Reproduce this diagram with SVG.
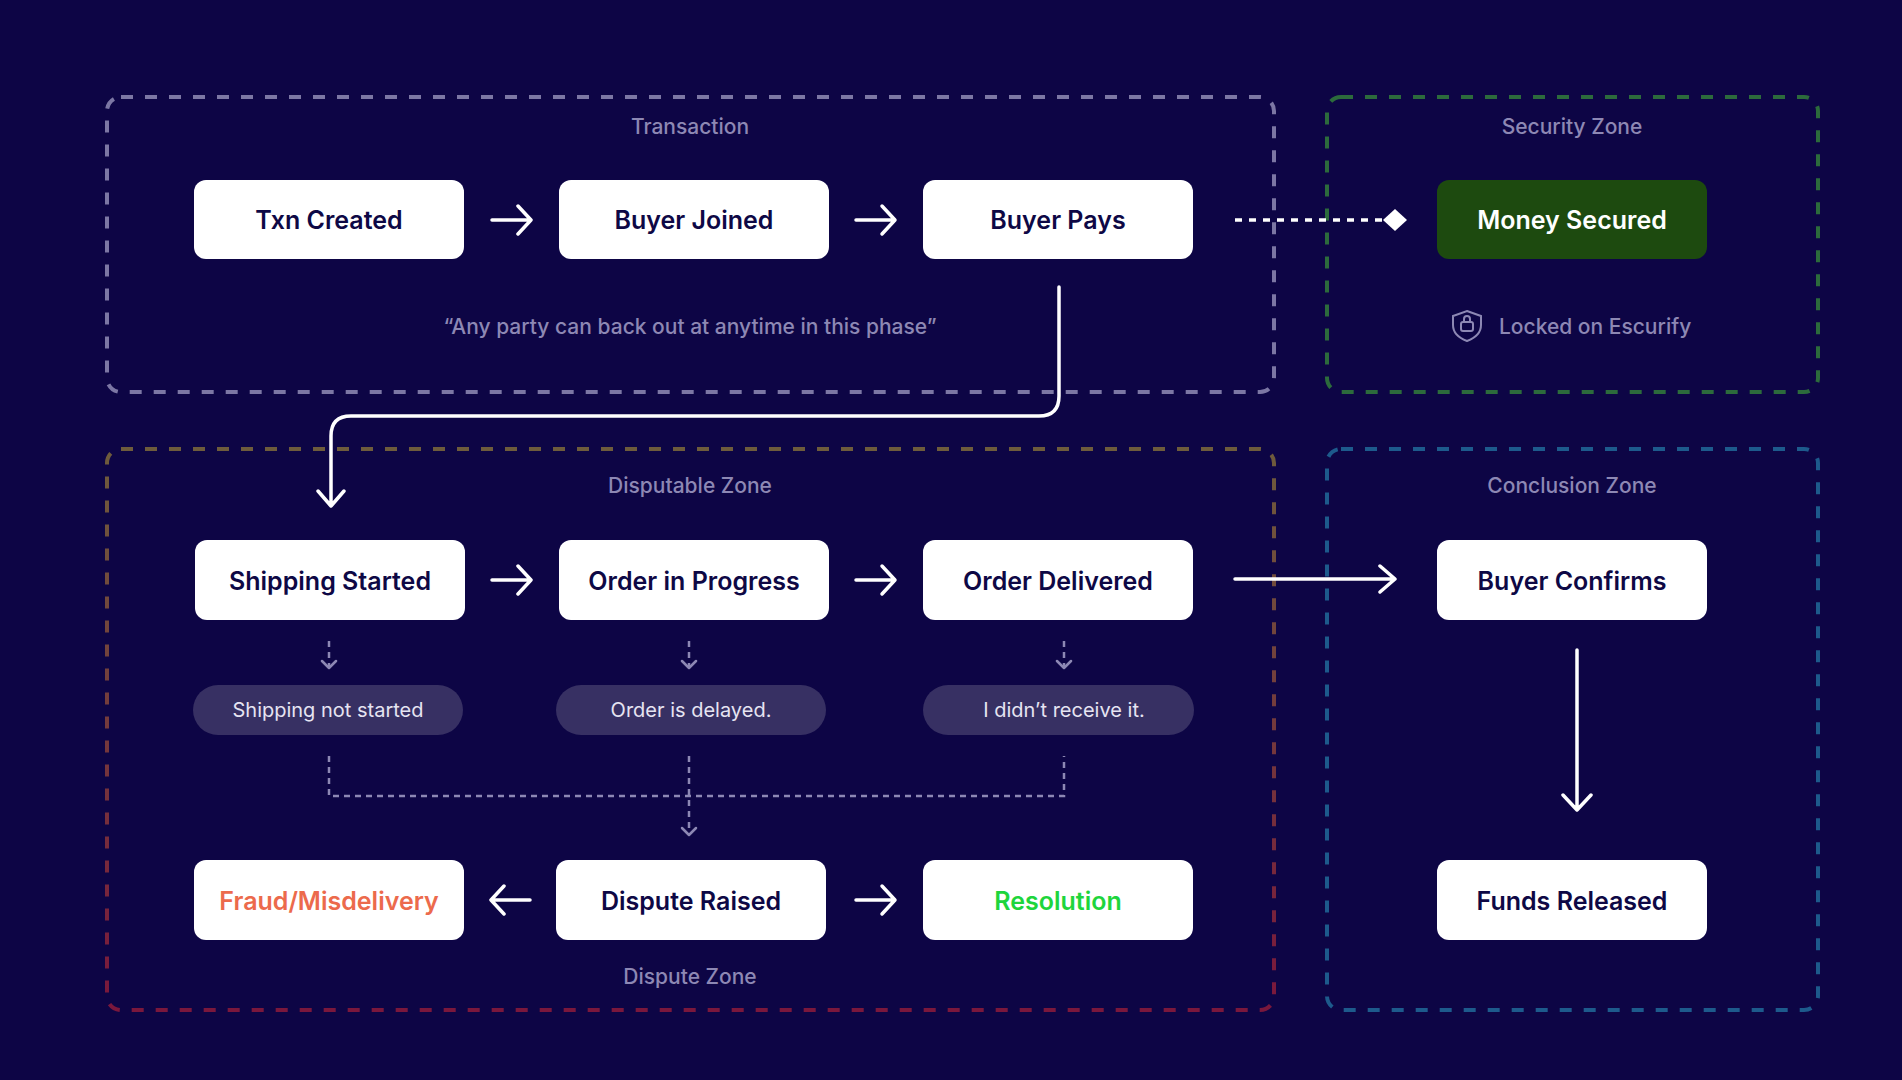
<svg xmlns="http://www.w3.org/2000/svg" width="1902" height="1080" viewBox="0 0 1902 1080">
<defs>
<style>
.zone{fill:none;stroke-width:4;stroke-dasharray:12 12}
.ztitle{font-family:Inter,"Noto Sans",sans-serif;font-size:21px;font-weight:500;fill:#8d88b4;text-anchor:middle}
.node{fill:#ffffff}
.nt{font-family:Inter,"Noto Sans",sans-serif;font-size:25px;font-weight:600;fill:#0e0845;text-anchor:middle;dominant-baseline:central}
.pill{fill:#373063}
.pt{font-family:Inter,"Noto Sans",sans-serif;font-size:20px;fill:#e6e4f2;text-anchor:middle;dominant-baseline:central}
.ar{fill:none;stroke:#fff;stroke-width:3.5;stroke-linecap:round;stroke-linejoin:round}
.da{fill:none;stroke:#8d88b4;stroke-width:2.5;stroke-dasharray:6 5}
.dh{fill:none;stroke:#8d88b4;stroke-width:2.5;stroke-linecap:round;stroke-linejoin:round}
</style>
<linearGradient id="dg" x1="0" y1="0" x2="0" y2="1">
<stop offset="0" stop-color="#6e5c3c"/><stop offset="1" stop-color="#7a173c"/>
</linearGradient>
</defs>
<rect width="1902" height="1080" fill="#0d0545"/>
<g id="zones">
<rect class="zone" x="107" y="97" width="1167" height="295" rx="14" stroke="#7c77a4"/>
<rect class="zone" x="1327" y="97" width="491" height="295" rx="14" stroke="#2c6b3c"/>
<rect class="zone" x="107" y="449" width="1167" height="561" rx="14" stroke="url(#dg)"/>
<rect class="zone" x="1327" y="449" width="491" height="561" rx="14" stroke="#1d5a8c"/>
<text class="ztitle" x="690" y="134">Transaction</text>
<text class="ztitle" x="1572" y="134">Security Zone</text>
<text class="ztitle" x="690" y="493">Disputable Zone</text>
<text class="ztitle" x="1572" y="493">Conclusion Zone</text>
<text class="ztitle" x="690" y="984">Dispute Zone</text>
<text class="ztitle" x="690" y="334">“Any party can back out at anytime in this phase”</text>
</g>
<g id="locked">
<path d="M1467 311 l14 5 v9 c0 8 -6 13 -14 16 c-8 -3 -14 -8 -14 -16 v-9 z" fill="none" stroke="#8d88b4" stroke-width="2"/>
<rect x="1461" y="322" width="12" height="9" rx="2" fill="none" stroke="#8d88b4" stroke-width="2"/>
<path d="M1464 322 v-3 a3 3 0 0 1 6 0 v3" fill="none" stroke="#8d88b4" stroke-width="2"/>
<text class="ztitle" x="1499" y="334" style="text-anchor:start">Locked on Escurify</text>
</g>
<g id="n-txn"><rect class="node" x="194" y="180" width="270" height="79" rx="12"/><text class="nt" x="329" y="220">Txn Created</text></g>
<g id="n-joined"><rect class="node" x="559" y="180" width="270" height="79" rx="12"/><text class="nt" x="694" y="220">Buyer Joined</text></g>
<g id="n-pays"><rect class="node" x="923" y="180" width="270" height="79" rx="12"/><text class="nt" x="1058" y="220">Buyer Pays</text></g>
<g id="n-secured"><rect x="1437" y="180" width="270" height="79" rx="12" fill="#1d4a0f"/><text class="nt" x="1572" y="220" style="fill:#fff">Money Secured</text></g>
<g id="n-ship"><rect class="node" x="195" y="540" width="270" height="80" rx="12"/><text class="nt" x="330" y="581">Shipping Started</text></g>
<g id="n-prog"><rect class="node" x="559" y="540" width="270" height="80" rx="12"/><text class="nt" x="694" y="581">Order in  Progress</text></g>
<g id="n-deliv"><rect class="node" x="923" y="540" width="270" height="80" rx="12"/><text class="nt" x="1058" y="581">Order Delivered</text></g>
<g id="n-confirm"><rect class="node" x="1437" y="540" width="270" height="80" rx="12"/><text class="nt" x="1572" y="581">Buyer Confirms</text></g>
<g id="p-ship"><rect class="pill" x="193" y="685" width="270" height="50" rx="25"/><text class="pt" x="328" y="710">Shipping not started</text></g>
<g id="p-delay"><rect class="pill" x="556" y="685" width="270" height="50" rx="25"/><text class="pt" x="691" y="710">Order is delayed.</text></g>
<g id="p-recv"><rect class="pill" x="923" y="685" width="271" height="50" rx="25"/><text class="pt" x="1064" y="710">I didn’t receive it.</text></g>
<g id="n-fraud"><rect class="node" x="194" y="860" width="270" height="80" rx="12"/><text class="nt" x="329" y="901" style="fill:#ec6a4c">Fraud/Misdelivery</text></g>
<g id="n-dispute"><rect class="node" x="556" y="860" width="270" height="80" rx="12"/><text class="nt" x="691" y="901">Dispute Raised</text></g>
<g id="n-resol"><rect class="node" x="923" y="860" width="270" height="80" rx="12"/><text class="nt" x="1058" y="901" style="fill:#1ed53c">Resolution</text></g>
<g id="n-funds"><rect class="node" x="1437" y="860" width="270" height="80" rx="12"/><text class="nt" x="1572" y="901">Funds Released</text></g>
<g id="connectors">
<path class="ar" d="M492 220 H529 M518 206 L531 220 L518 234"/>
<path class="ar" d="M856 220 H893 M882 206 L895 220 L882 234"/>
<path class="ar" d="M492 580 H529 M518 566 L531 580 L518 594"/>
<path class="ar" d="M856 580 H893 M882 566 L895 580 L882 594"/>
<path class="ar" d="M530 900 H493 M504 886 L491 900 L504 914"/>
<path class="ar" d="M856 900 H893 M882 886 L895 900 L882 914"/>
<path class="ar" d="M1235 579 H1393 M1380 566 L1395 579 L1380 592"/>
<path class="ar" d="M1577 650 V808 M1563 795 L1577 810 L1591 795"/>
<path class="ar" d="M1059 287 V396 Q1059 416 1039 416 H351 Q331 416 331 436 V505 M318 491 L331 506 L344 491"/>
<path d="M1235 220 H1390" fill="none" stroke="#fff" stroke-width="3.5" stroke-dasharray="7 7"/>
<path d="M1395 209 L1407 220 L1395 231 L1383 220 Z" fill="#fff"/>
<path class="da" d="M329 641 V667 M689 641 V667 M1064 641 V667"/>
<path class="dh" d="M322 661 L329 668 L336 661 M682 661 L689 668 L696 661 M1057 661 L1064 668 L1071 661"/>
<path class="da" d="M329 756 V796 H1064 V756 M689 756 V835"/>
<path class="dh" d="M682 828 L689 835 L696 828"/>
</g>
</svg>
